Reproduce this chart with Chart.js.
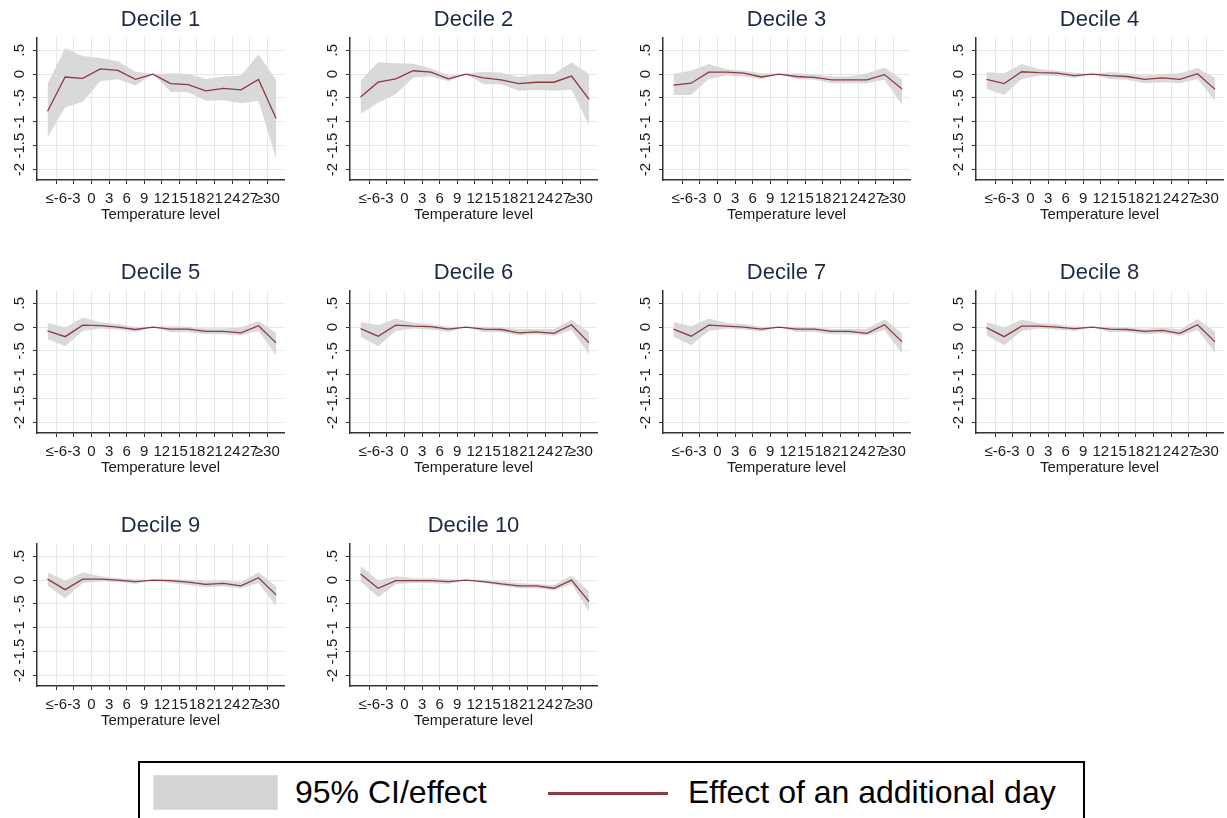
<!DOCTYPE html>
<html>
<head>
<meta charset="utf-8">
<script src="https://cdn.jsdelivr.net/npm/chart.js@4/dist/chart.umd.min.js"></script>
<style>
  html, body { margin: 0; padding: 0; background: #fff; }
  body { width: 1227px; height: 818px; position: relative; overflow: hidden;
         font-family: 'Liberation Sans', Arial, sans-serif; }
  canvas.panel { position: absolute; }
  #legendBox { position: absolute; left: 138px; top: 761px; width: 947px; height: 80px;
               border: 2px solid #000; box-sizing: border-box; }
  .legend-swatch { position: absolute; left: 13px; top: 12px; width: 125px; height: 35px;
                   background: #d4d4d4; border: 1px solid #dedede; box-sizing: border-box; }
  .legend-line { position: absolute; left: 408px; top: 29px; width: 120px; height: 3px; background: #8f3a40; }
  .legend-text { position: absolute; top: 10px; font-size: 32px; line-height: 38px; color: #000; white-space: nowrap; }
</style>
</head>
<body>
<div id="legendBox">
  <div class="legend-swatch"></div>
  <span class="legend-text" style="left:155px">95% CI/effect</span>
  <div class="legend-line"></div>
  <span class="legend-text" style="left:548px">Effect of an additional day</span>
</div>
<script>
// Подписи оси X (границы температурных интервалов)
const xTickLabels = ['≤-6', '-3', '0', '3', '6', '9', '12', '15', '18', '21', '24', '27', '≥30'];
// Деления оси Y
const yTickValues = [-2, -1.5, -1, -0.5, 0, 0.5];
const panelTitles = ['Decile 1', 'Decile 2', 'Decile 3', 'Decile 4', 'Decile 5',
                     'Decile 6', 'Decile 7', 'Decile 8', 'Decile 9', 'Decile 10'];

// Оценка эффекта по 14 интервалам (<-6 ... >=30), по децилям
const effectByDecile = [
    [-0.78, -0.06, -0.09, 0.11, 0.08, -0.11, 0, -0.20, -0.22, -0.35, -0.30, -0.33, -0.11, -0.93],
    [-0.48, -0.17, -0.10, 0.07, 0.04, -0.10, 0, -0.08, -0.12, -0.20, -0.17, -0.17, -0.04, -0.53],
    [-0.23, -0.19, 0.04, 0.04, 0.02, -0.06, 0, -0.05, -0.07, -0.12, -0.12, -0.12, -0.01, -0.31],
    [-0.11, -0.20, 0.05, 0.03, 0.02, -0.03, 0, -0.03, -0.05, -0.11, -0.08, -0.11, 0.01, -0.32],
    [-0.08, -0.20, 0.04, 0.03, 0.00, -0.05, 0, -0.04, -0.04, -0.09, -0.09, -0.12, 0.03, -0.33],
    [-0.03, -0.19, 0.04, 0.02, 0.01, -0.04, 0, -0.04, -0.05, -0.12, -0.10, -0.13, 0.05, -0.33],
    [-0.04, -0.19, 0.04, 0.02, 0.00, -0.04, 0, -0.04, -0.04, -0.09, -0.09, -0.13, 0.05, -0.31],
    [-0.01, -0.20, 0.02, 0.02, 0.00, -0.03, 0, -0.04, -0.05, -0.09, -0.07, -0.13, 0.05, -0.31],
    [0.02, -0.20, 0.02, 0.02, 0.00, -0.03, 0, -0.01, -0.04, -0.09, -0.07, -0.12, 0.05, -0.31],
    [0.13, -0.17, -0.01, -0.01, -0.01, -0.03, 0, -0.03, -0.08, -0.12, -0.12, -0.17, 0.00, -0.45]
];
// Верхняя граница 95% CI
const ciHighByDecile = [
    [-0.20, 0.55, 0.38, 0.34, 0.27, 0.05, 0, 0.02, 0.00, -0.10, -0.05, -0.03, 0.41, -0.12],
    [-0.14, 0.25, 0.23, 0.22, 0.12, -0.03, 0, 0.05, 0.03, -0.06, -0.01, 0.00, 0.25, 0.00],
    [0.01, 0.07, 0.21, 0.10, 0.07, 0.02, 0, 0.02, -0.01, -0.05, -0.05, 0.02, 0.14, -0.12],
    [0.04, 0.02, 0.21, 0.10, 0.07, 0.03, 0, 0.04, 0.02, -0.03, 0.00, 0.02, 0.13, -0.08],
    [0.09, -0.01, 0.20, 0.10, 0.06, 0.01, 0, 0.02, 0.01, -0.03, -0.03, -0.01, 0.13, -0.12],
    [0.11, 0.04, 0.18, 0.09, 0.06, 0.01, 0, 0.01, -0.01, -0.04, -0.04, -0.04, 0.15, -0.10],
    [0.11, 0.02, 0.18, 0.09, 0.06, 0.01, 0, 0.01, -0.01, -0.04, -0.04, -0.04, 0.16, -0.13],
    [0.11, -0.01, 0.16, 0.08, 0.06, 0.01, 0, 0.01, -0.01, -0.04, -0.01, -0.05, 0.17, -0.10],
    [0.16, -0.01, 0.16, 0.08, 0.04, 0.02, 0, 0.02, 0.01, -0.03, -0.01, -0.04, 0.16, -0.13],
    [0.30, -0.01, 0.08, 0.04, 0.04, 0.02, 0, 0.01, -0.03, -0.06, -0.08, -0.10, 0.09, -0.24]
];
// Нижняя граница 95% CI
const ciLowByDecile = [
    [-1.33, -0.70, -0.58, -0.15, -0.11, -0.24, 0, -0.37, -0.38, -0.56, -0.55, -0.61, -0.56, -1.77],
    [-0.83, -0.60, -0.42, -0.07, -0.05, -0.15, 0, -0.21, -0.21, -0.35, -0.33, -0.35, -0.33, -1.07],
    [-0.44, -0.44, -0.10, -0.03, -0.05, -0.10, 0, -0.10, -0.12, -0.19, -0.19, -0.19, -0.12, -0.65],
    [-0.31, -0.44, -0.10, -0.03, -0.04, -0.08, 0, -0.10, -0.12, -0.19, -0.17, -0.19, -0.10, -0.56],
    [-0.25, -0.40, -0.08, -0.03, -0.05, -0.10, 0, -0.11, -0.11, -0.15, -0.15, -0.17, -0.08, -0.59],
    [-0.20, -0.40, -0.08, -0.03, -0.05, -0.10, 0, -0.10, -0.11, -0.17, -0.15, -0.18, -0.06, -0.57],
    [-0.20, -0.38, -0.08, -0.03, -0.05, -0.09, 0, -0.10, -0.10, -0.15, -0.15, -0.17, -0.06, -0.56],
    [-0.17, -0.38, -0.08, -0.03, -0.05, -0.08, 0, -0.10, -0.10, -0.15, -0.13, -0.18, -0.06, -0.54],
    [-0.12, -0.38, -0.06, -0.03, -0.04, -0.08, 0, -0.06, -0.10, -0.15, -0.13, -0.17, -0.06, -0.54],
    [-0.03, -0.36, -0.08, -0.06, -0.06, -0.08, 0, -0.06, -0.12, -0.17, -0.17, -0.22, -0.08, -0.66]
];

Chart.defaults.font.family = "'Liberation Sans', Arial, sans-serif";
Chart.defaults.animation = false;

const LINE_COLOR = '#8f3a40';
const BAND_COLOR = '#d9d9d9';
const GRID_COLOR = '#e6e6e6';
const AXIS_COLOR = '#333333';

// Геометрия сетки панелей
const PANEL_W = 307, PANEL_H = 224;
const COL_X = [6.7, 319.8, 632.9, 946];
const ROW_Y = [0, 253, 506];

// x = номер интервала, метки стоят на границах интервалов
function toPoints(arr) {
    return arr.map((v, i) => ({ x: i, y: v }));
}

function fmtY(v) {
    if (v === 0) return '0';
    return String(v).replace('0.', '.');
}

function buildPanel(idx) {
    const canvas = document.createElement('canvas');
    canvas.className = 'panel';
    canvas.width = PANEL_W;
    canvas.height = PANEL_H;
    canvas.style.left = COL_X[idx % 4] + 'px';
    canvas.style.top = ROW_Y[Math.floor(idx / 4)] + 'px';
    document.body.appendChild(canvas);

    new Chart(canvas.getContext('2d'), {
        type: 'line',
        data: {
            datasets: [
                // order: меньшее значение рисуется поверх
                { data: toPoints(ciLowByDecile[idx]), borderWidth: 0, pointRadius: 0, fill: false, order: 2 },
                { data: toPoints(ciHighByDecile[idx]), borderWidth: 0, pointRadius: 0,
                  fill: '-1', backgroundColor: BAND_COLOR, order: 1 },
                { data: toPoints(effectByDecile[idx]), borderColor: LINE_COLOR, borderWidth: 1.3,
                  pointRadius: 0, fill: false, tension: 0, order: 0 }
            ]
        },
        options: {
            responsive: false,
            devicePixelRatio: 1,
            layout: { padding: 0 },
            plugins: {
                legend: { display: false },
                tooltip: { enabled: false },
                title: {
                    display: true,
                    text: panelTitles[idx],
                    color: '#1c2a48',
                    font: { size: 22, weight: 'normal' },
                    padding: { top: 7, bottom: 4 }
                }
            },
            scales: {
                x: {
                    type: 'linear',
                    min: -0.6,
                    max: 13.45,
                    afterBuildTicks(scale) {
                        scale.ticks = xTickLabels.map((_, i) => ({ value: i + 0.5 }));
                    },
                    afterFit(scale) { scale.height = 44; },
                    ticks: {
                        autoSkip: false, maxRotation: 0, minRotation: 0,
                        padding: 6, color: '#1a1a1a', font: { size: 15 },
                        callback: (v, i) => xTickLabels[i]
                    },
                    grid: { color: GRID_COLOR, lineWidth: 1, tickLength: 4, tickColor: AXIS_COLOR, tickWidth: 1 },
                    border: { display: true, color: AXIS_COLOR, width: 1.5 },
                    title: {
                        display: true, text: 'Temperature level', color: '#1a1a1a',
                        font: { size: 15 }, padding: { top: 0, bottom: 0 }
                    }
                },
                y: {
                    min: -2.22,
                    max: 0.77,
                    afterBuildTicks(scale) {
                        scale.ticks = yTickValues.map(v => ({ value: v }));
                    },
                    afterFit(scale) { scale.width = 30; },
                    ticks: {
                        autoSkip: false, minRotation: 90, maxRotation: 90, crossAlign: 'center',
                        padding: 0, color: '#1a1a1a', font: { size: 15 },
                        callback: v => fmtY(v)
                    },
                    grid: { color: GRID_COLOR, lineWidth: 1, tickLength: 4, tickColor: AXIS_COLOR, tickWidth: 1 },
                    border: { display: true, color: AXIS_COLOR, width: 1.5 }
                },
                // пустая правая ось — симметричное поле, чтобы заголовок был по центру графика
                yPad: {
                    position: 'right',
                    min: -2.22,
                    max: 0.77,
                    afterFit(scale) { scale.width = 30; },
                    ticks: { display: false },
                    grid: { display: false, drawTicks: false },
                    border: { display: false }
                }
            }
        }
    });
}

panelTitles.forEach((_, i) => buildPanel(i));
</script>
</body>
</html>
